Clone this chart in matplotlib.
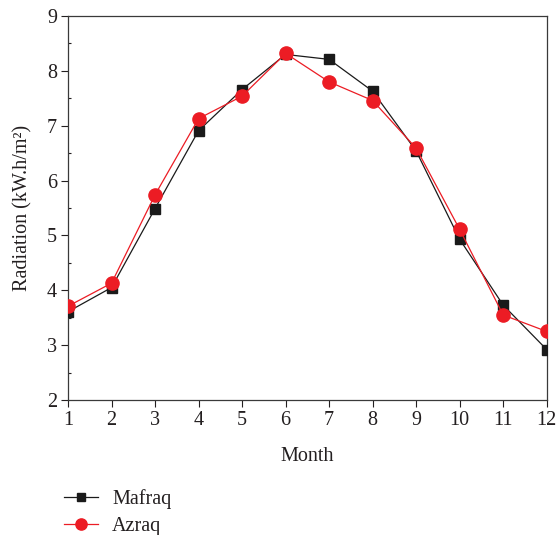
import numpy as np
import matplotlib
matplotlib.use("Agg")
import matplotlib.pyplot as plt
from matplotlib.ticker import MultipleLocator

plt.rcParams['font.family'] = ['Liberation Serif', 'DejaVu Serif']
plt.rcParams['font.size'] = 14

# Datos
months = [1, 2, 3, 4, 5, 6, 7, 8, 9, 10, 11, 12]
mafraq = [3.61, 4.05, 5.49, 6.91, 7.66, 8.30, 8.21, 7.63, 6.54, 4.93, 3.73, 2.92]
azraq = [3.71, 4.13, 5.74, 7.13, 7.54, 8.32, 7.80, 7.46, 6.59, 5.11, 3.55, 3.25]

text_color = '#231f20'

fig = plt.figure(figsize=(5.56, 5.35), dpi=100)
ax = fig.add_axes([0.1223, 0.2523, 0.861, 0.7177])

l1, = ax.plot(months, mafraq, color='#1a1a1a', lw=0.9, marker='s', ms=7.5,
              label='Mafraq', zorder=3)
l2, = ax.plot(months, azraq, color='#ec1c24', lw=0.9, marker='o', ms=9.5,
              label='Azraq', zorder=4)

ax.set_xlim(1, 12)
ax.set_ylim(2, 9)
ax.set_xticks(months)
ax.yaxis.set_major_locator(MultipleLocator(1))
ax.yaxis.set_minor_locator(MultipleLocator(0.5))
ax.tick_params(axis='both', which='major', direction='out', length=5,
               width=0.8, colors=text_color, labelsize=14.5, pad=3)
ax.tick_params(axis='y', which='minor', direction='in', length=2.5,
               width=0.8, colors=text_color)
for s in ax.spines.values():
    s.set_color('#3a3a3a')
    s.set_linewidth(0.9)

ax.set_xlabel('Month', fontsize=14.5, color=text_color, labelpad=12)
ax.set_ylabel('Radiation (kW.h/m²)', fontsize=14.5, color=text_color, labelpad=10)

fig.legend(handles=[l1, l2], loc='upper left', bbox_to_anchor=(0.1, 0.1),
           frameon=False, fontsize=14.5, handlelength=1.7, handletextpad=0.7,
           labelspacing=0.35, labelcolor=text_color, borderaxespad=0,
           markerscale=0.85)

fig.savefig('out.png', dpi=100)
